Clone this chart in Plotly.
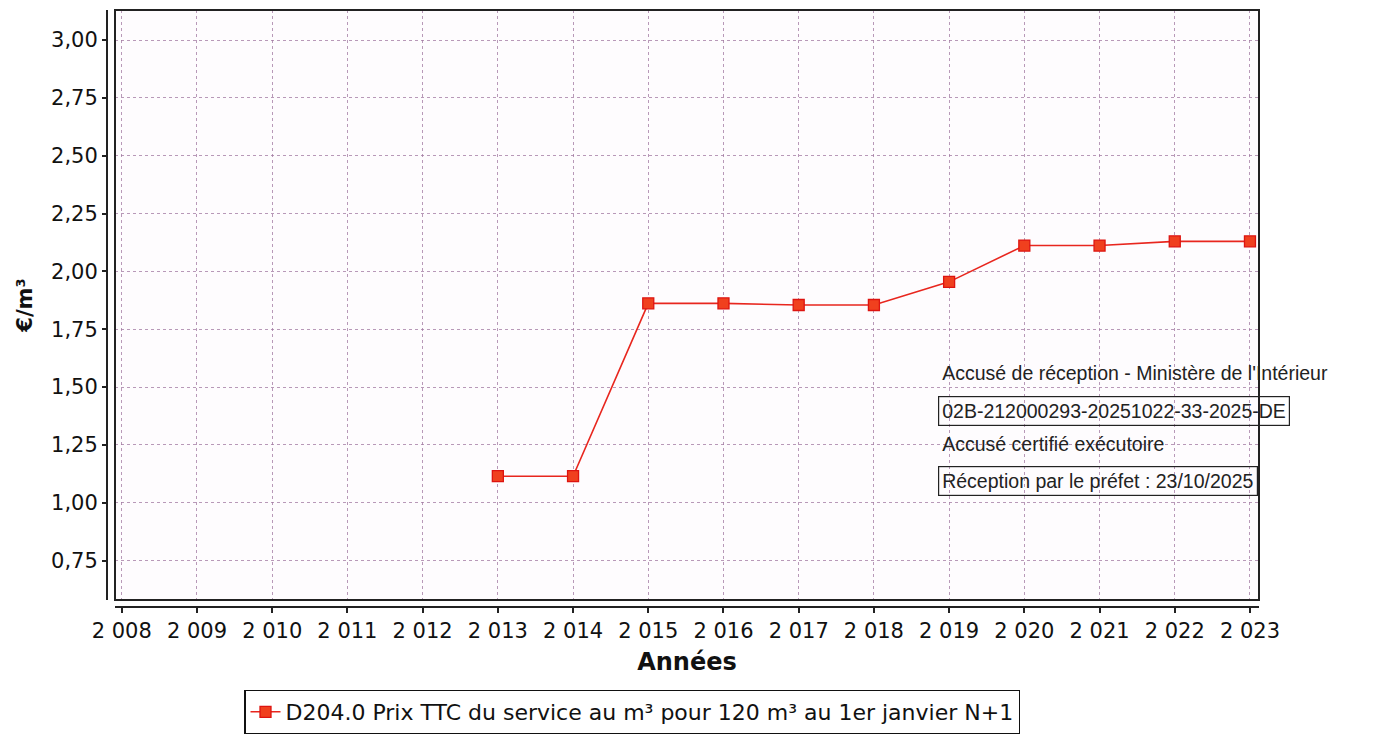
import plotly.graph_objects as go

years = [2013, 2014, 2015, 2016, 2017, 2018, 2019, 2020, 2021, 2022, 2023]
prix = [1.115, 1.115, 1.862, 1.862, 1.855, 1.855, 1.955, 2.112, 2.112, 2.130, 2.130]

x_tick_vals = list(range(2008, 2024))
x_tick_text = ["2 008", "2 009", "2 010", "2 011", "2 012", "2 013", "2 014", "2 015",
               "2 016", "2 017", "2 018", "2 019", "2 020", "2 021", "2 022", "2 023"]
y_tick_vals = [0.75, 1.00, 1.25, 1.50, 1.75, 2.00, 2.25, 2.50, 2.75, 3.00]
y_tick_text = ["0,75", "1,00", "1,25", "1,50", "1,75", "2,00", "2,25", "2,50", "2,75", "3,00"]

series_name = "D204.0 Prix TTC du service au m³ pour 120 m³ au 1er janvier N+1"
stamp_lines = [
    ("Accusé de réception - Ministère de l'Intérieur", False),
    ("02B-212000293-20251022-33-2025-DE", True),
    ("Accusé certifié exécutoire", False),
    ("Réception par le préfet : 23/10/2025", True),
]

# page offset caused by default body margin
OFF = 8
W, H = 1380 - OFF, 734 - OFF
# page-pixel positions of plot elements
AX_L, AX_B = 107, 607      # offset axis lines
PL_L, PL_R, PL_T, PL_B = 115, 1259, 10, 600   # plot frame

ML = AX_L - OFF
MT = PL_T - OFF
MR = 1380 - PL_R
MB = 734 - AX_B
pw = W - ML - MR
ph = H - MT - MB

def px_x(p):
    return (p - AX_L) / pw

def px_y(p):
    return (AX_B - p) / ph

fig = go.Figure()
fig.add_trace(go.Scatter(
    x=years, y=prix, mode="lines+markers", name=series_name,
    line=dict(color="#e8261e", width=1.6),
    marker=dict(symbol="square", size=11, color="#f0401e",
                line=dict(color="#dd1410", width=1.3)),
))

grid_col = "rgba(160,120,160,0.75)"
fig.update_layout(
    width=W, height=H,
    margin=dict(l=ML, r=MR, t=MT, b=MB, autoexpand=False),
    paper_bgcolor="white",
    plot_bgcolor="#fefcfe",
    font=dict(family="DejaVu Sans", color="#111"),
    showlegend=True,
    legend=dict(
        orientation="h", x=px_x(632), y=px_y(712), xanchor="center", yanchor="middle",
        bordercolor="#111", borderwidth=1.5, bgcolor="white",
        font=dict(family="DejaVu Sans", size=22, color="#111"),
    ),
    xaxis=dict(
        domain=[px_x(PL_L), 1], anchor="free", position=0,
        range=[2007.91, 2023.12],
        tickvals=x_tick_vals, ticktext=x_tick_text,
        tickfont=dict(size=21, color="#111"),
        ticks="outside", ticklen=5, tickcolor="#222", tickwidth=1.5,
        showline=True, linecolor="#222", linewidth=2,
        showgrid=True, gridcolor=grid_col, griddash="dot", gridwidth=1,
        zeroline=False,
        title=dict(text="<b>Années</b>", font=dict(size=24, color="#111"), standoff=10),
    ),
    yaxis=dict(
        domain=[px_y(PL_B), 1], anchor="free", position=0,
        range=[0.58, 3.13],
        tickvals=y_tick_vals, ticktext=y_tick_text,
        tickfont=dict(size=21, color="#111"),
        ticks="outside", ticklen=4, tickcolor="#222", tickwidth=1.5,
        showline=True, linecolor="#222", linewidth=2,
        showgrid=True, gridcolor=grid_col, griddash="dot", gridwidth=1,
        zeroline=False,
        title=dict(text="<b>€/m³</b>", font=dict(size=21, color="#111"), standoff=12),
    ),
)

# plot frame
fig.add_shape(type="rect", xref="x domain", yref="y domain", x0=0, x1=1, y0=0, y1=1,
              line=dict(color="#222", width=2), layer="above")

ys = [373, 411, 444, 481]
for (txt, boxed), yy in zip(stamp_lines, ys):
    fig.add_annotation(
        xref="paper", yref="paper", x=px_x(938), y=px_y(yy),
        xanchor="left", yanchor="middle", showarrow=False, text=txt,
        font=dict(family="Liberation Sans", size=19.5, color="#222"),
        bordercolor="#222" if boxed else "rgba(0,0,0,0)", borderwidth=1.2, borderpad=3,
    )

fig.write_html("out.html")
